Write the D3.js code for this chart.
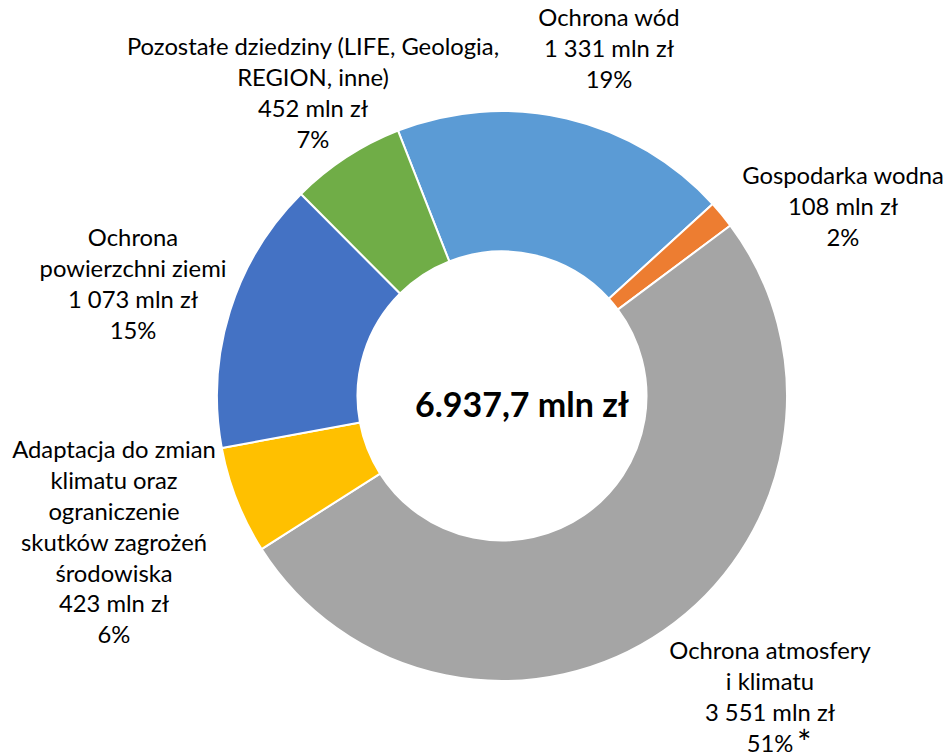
<!DOCTYPE html>
<html>
<head>
<meta charset="utf-8">
<script src="https://cdn.jsdelivr.net/npm/d3@7"></script>
<style>
  body { margin: 0; background: #fff; }
  svg { display: block; font-family: Lato, "Open Sans", sans-serif; }
</style>
</head>
<body>
<div class="chart"></div>
<script>
// data
var categories = [
  ['Ochrona wód'],
  ['Gospodarka wodna'],
  ['Ochrona atmosfery', 'i klimatu'],
  ['Adaptacja do zmian', 'klimatu oraz', 'ograniczenie', 'skutków zagrożeń', 'środowiska'],
  ['Ochrona', 'powierzchni ziemi'],
  ['Pozostałe dziedziny (LIFE, Geologia,', 'REGION, inne)']
]
var values = [1331, 108, 3551, 423, 1073, 452]
var colors = ['#5b9bd5', '#ed7d31', '#a5a5a5', '#ffc000', '#4472c4', '#70ad47']
var totalLabel = '6.937,7 mln zł'

// label anchors (x center, y of first line) as placed in the original
var labelPos = [[609, 18], [843, 176], [770, 651], [114, 450], [133, 238], [313, 47]]

var width = 946, height = 755
var cx = 502, cy = 396, rOuter = 285, rInner = 144.5
var lineH = 30.8

var svg = d3.select('.chart').append('svg')
  .attr('width', width).attr('height', height)

var total = d3.sum(values)
var fmt = d3.formatLocale({thousands: ' ', grouping: [3], decimal: ',', currency: ['', '']}).format(',d')

var pie = d3.pie().sort(null).value(d => d)
  .startAngle(-21.4 * Math.PI / 180)
  .endAngle((360 - 21.4) * Math.PI / 180)

var arc = d3.arc().innerRadius(rInner).outerRadius(rOuter)

var g = svg.append('g').attr('transform', `translate(${cx},${cy})`)

g.selectAll('path').data(pie(values)).join('path')
  .attr('d', arc)
  .attr('fill', (d, i) => colors[i])
  .attr('stroke', '#fff')
  .attr('stroke-width', 2)
  .attr('stroke-linejoin', 'round')

// slice labels
categories.forEach((lines, i) => {
  var pct = Math.round(values[i] / total * 100) + '%'
  var all = lines.concat([fmt(values[i]) + ' mln zł', pct])
  var [x, y0] = labelPos[i]
  var t = svg.append('text')
    .attr('text-anchor', 'middle')
    .attr('font-size', 23.8)
    .attr('fill', '#000')
  all.forEach((s, j) => {
    t.append('tspan').attr('x', x).attr('y', y0 + j * lineH).attr('dy', '0.35em').text(s)
  })
  if (i == 2) {
    svg.append('text')
      .attr('x', x + 27).attr('y', y0 + 3 * lineH)
      .attr('font-size', 34).attr('dy', '0.35em')
      .text('*')
  }
})

// total in the hole
svg.append('text')
  .attr('x', 522).attr('y', 405)
  .attr('dy', '0.35em')
  .attr('text-anchor', 'middle')
  .attr('font-size', 34)
  .attr('font-weight', 'bold')
  .text(totalLabel)
</script>
</body>
</html>
